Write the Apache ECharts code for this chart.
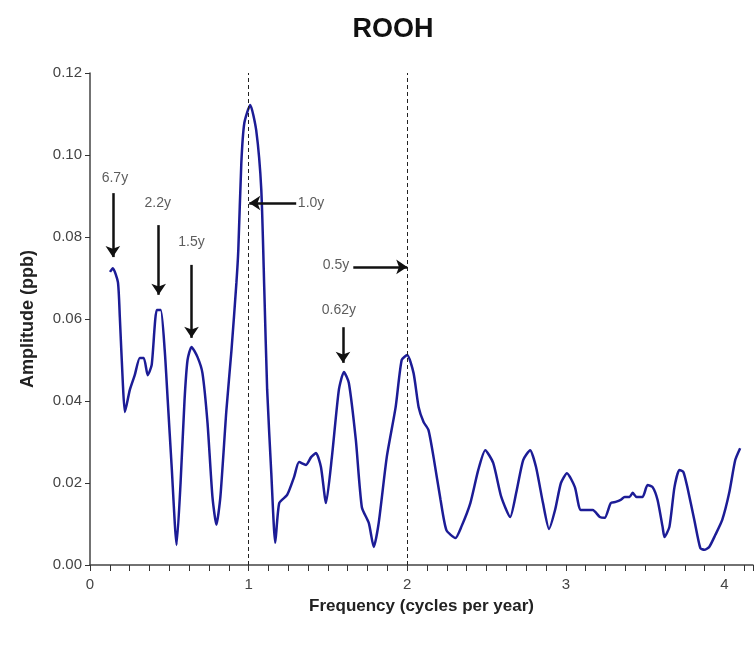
<!DOCTYPE html>
<html>
<head>
<meta charset="utf-8">
<script src="https://cdn.jsdelivr.net/npm/echarts@6/dist/echarts.min.js"></script>
<style>html,body{margin:0;padding:0;background:#fff}#c{width:756px;height:645px}</style>
</head>
<body>
<div id="c"></div>
<script>
// Frequency (cycles per year)
var freq = [0.126,0.144,0.176,0.188,0.207,0.220,0.251,0.282,0.314,0.339,0.364,0.389,0.421,0.446,0.471,0.490,0.515,0.546,0.571,0.596,0.615,0.640,0.678,0.709,0.741,0.772,0.797,0.822,0.860,0.892,0.923,0.935,0.954,0.973,1.010,1.048,1.080,1.099,1.117,1.143,1.168,1.193,1.243,1.287,1.318,1.362,1.394,1.425,1.456,1.488,1.525,1.569,1.601,1.632,1.676,1.714,1.758,1.789,1.820,1.871,1.927,1.965,2.000,2.040,2.072,2.103,2.134,2.166,2.210,2.247,2.304,2.341,2.398,2.448,2.492,2.542,2.593,2.649,2.687,2.731,2.775,2.812,2.856,2.894,2.932,2.969,3.007,3.057,3.095,3.170,3.214,3.245,3.283,3.314,3.346,3.371,3.402,3.421,3.446,3.484,3.515,3.547,3.578,3.610,3.622,3.653,3.685,3.716,3.741,3.766,3.810,3.848,3.873,3.904,3.942,3.986,4.030,4.068,4.099];
// Amplitude (ppb)
var amp = [0.0715,0.0724,0.0690,0.0605,0.0444,0.0373,0.0427,0.0463,0.0505,0.0505,0.0463,0.0488,0.0622,0.0622,0.0524,0.0402,0.0239,0.0049,0.0200,0.0402,0.0500,0.0532,0.0507,0.0468,0.0346,0.0166,0.0098,0.0166,0.0378,0.0524,0.0688,0.0768,0.0980,0.1078,0.1122,0.1060,0.0915,0.0670,0.0427,0.0224,0.0054,0.0151,0.0171,0.0215,0.0251,0.0244,0.0263,0.0273,0.0239,0.0151,0.0263,0.0427,0.0471,0.0444,0.0305,0.0141,0.0102,0.0044,0.0102,0.0263,0.0385,0.0500,0.0512,0.0468,0.0385,0.0349,0.0329,0.0263,0.0159,0.0085,0.0066,0.0093,0.0151,0.0232,0.0280,0.0249,0.0166,0.0117,0.0176,0.0256,0.0280,0.0239,0.0151,0.0088,0.0134,0.0200,0.0224,0.0190,0.0134,0.0134,0.0117,0.0115,0.0151,0.0154,0.0159,0.0166,0.0166,0.0176,0.0166,0.0166,0.0195,0.0190,0.0159,0.0093,0.0068,0.0093,0.0190,0.0232,0.0227,0.0190,0.0110,0.0041,0.0037,0.0044,0.0073,0.0110,0.0176,0.0256,0.0285];
// Reference lines (cycles per year)
var refLines = [1, 2];
// Annotation labels and positions (data units)
var annLabels = ['6.7y','2.2y','1.5y','1.0y','0.5y','0.62y'];
var annTextX  = [0.157,0.427,0.640,1.394,1.551,1.569];
var annTextY  = [0.0944,0.0883,0.0788,0.0883,0.0732,0.0622];
// Arrows: [fromX, fromY, toX, toY]
var arrows = [
  [0.144,0.0907,0.144,0.0751],
  [0.433,0.0829,0.433,0.0659],
  [0.640,0.0732,0.640,0.0554],
  [1.300,0.0883,1.004,0.0883],
  [1.660,0.0727,2.000,0.0727],
  [1.595,0.0580,1.595,0.0493]
];
var xTicks = [0,1,2,3,4];
var xMax = 4.18, yMax = 0.12, yStep = 0.02;

var lineData = freq.map(function(f,i){return [f, amp[i]];});
var labelFont = "'Liberation Sans Narrow','Liberation Sans',Arial,sans-serif";
var boldFont = "'Liberation Sans',Arial,sans-serif";

var chart = echarts.init(document.getElementById('c'), null, {renderer:'canvas'});
chart.setOption({
  animation:false,
  backgroundColor:'#fff',
  title:{text:'ROOH', left:388, top:11, textAlign:'center',
    textStyle:{fontFamily:boldFont, fontWeight:'bold', fontSize:27, color:'#111'}},
  grid:{left:90, top:73, right:0, height:492, containLabel:false},
  xAxis:{type:'value', min:0, max:xMax, interval:1,
    name:'Frequency (cycles per year)', nameLocation:'middle', nameGap:33,
    nameTextStyle:{fontFamily:boldFont, fontWeight:'bold', fontSize:17, color:'#222'},
    axisLine:{show:true, lineStyle:{color:'#444', width:1.5}},
    axisTick:{show:true, inside:false, length:6, lineStyle:{color:'#333'}},
    minorTick:{show:true, splitNumber:8, length:6, lineStyle:{color:'#333'}},
    splitLine:{show:false},
    axisLabel:{margin:12, fontFamily:labelFont, fontSize:15, color:'#444',
      formatter:function(v){return xTicks.indexOf(v) >= 0 ? String(v) : '';}}
  },
  yAxis:{type:'value', min:0, max:yMax, interval:yStep,
    name:'Amplitude (ppb)', nameLocation:'middle', nameGap:53, nameRotate:90,
    nameTextStyle:{fontFamily:boldFont, fontWeight:'bold', fontSize:18, color:'#222'},
    axisLine:{show:true, lineStyle:{color:'#444', width:1.5}},
    axisTick:{show:true, inside:false, length:5, lineStyle:{color:'#333'}},
    splitLine:{show:false},
    axisLabel:{margin:8, fontFamily:labelFont, fontSize:15, color:'#444',
      formatter:function(v){return v.toFixed(2);}}
  },
  series:[
    {type:'line', data:lineData, showSymbol:false, smooth:0.2,
      lineStyle:{color:'#1c1c96', width:2.5}, z:3,
      markLine:{silent:true, symbol:['none','none'], label:{show:false},
        lineStyle:{color:'#222', type:[4,3], width:1},
        data: refLines.map(function(x){return [{coord:[x,0]},{coord:[x,yMax]}];})
      }
    },
    {type:'line', data:[], z:5,
      markLine:{silent:true, symbol:['none','arrow'], symbolSize:11, label:{show:false},
        lineStyle:{color:'#111', type:'solid', width:2.5},
        data: arrows.map(function(a){return [{coord:[a[0],a[1]]},{coord:[a[2],a[3]]}];})
      }
    },
    {type:'scatter', symbolSize:0, z:6, silent:true,
      data: annLabels.map(function(t,i){return {value:[annTextX[i], annTextY[i]], name:t};}),
      label:{show:true, position:'inside', formatter:function(p){return p.name;},
        fontFamily:labelFont, fontSize:14, color:'#333'}
    }
  ]
});
</script>
</body>
</html>
